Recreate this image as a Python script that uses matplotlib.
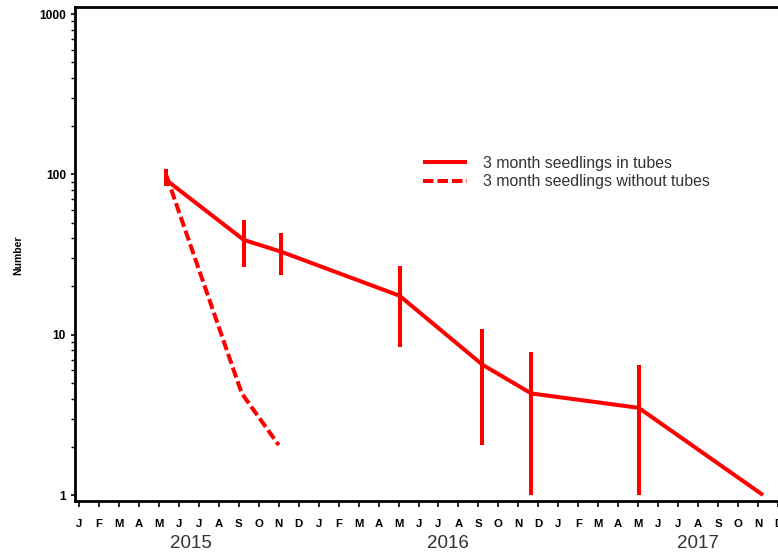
import numpy as np
import matplotlib
matplotlib.use("Agg")
import matplotlib.pyplot as plt
from matplotlib.ticker import FixedLocator, NullFormatter
import matplotlib.transforms as mtransforms

# Survey times in months since 1 January 2015
tube_months = [4.38, 8.25, 10.1, 16.05, 20.2, 22.65, 28.02, 34.25]
tube_counts = [92, 39, 33, 17.5, 6.5, 4.3, 3.5, 1.0]
tube_upper = [108, 52, 43, 26.7, 10.9, 7.8, 6.5, 1.0]
tube_lower = [85, 26.4, 23.4, 8.4, 2.05, 1.0, 1.0, 1.0]

bare_months = [4.38, 8.15, 10.0]
bare_counts = [98, 4.3, 2.05]

month_labels = ["J", "F", "M", "A", "M", "J", "J", "A", "S", "O", "N", "D"] * 3
years = ["2015", "2016", "2017"]
year_positions = [5.6, 18.45, 31.0]

W, H = 778, 554
fig = plt.figure(figsize=(W / 100, H / 100), dpi=100)
fig.patch.set_facecolor("white")

left_px, right_px, top_px, bottom_px = 75, 790, 7, 501
ax = fig.add_axes([left_px / W, (H - bottom_px) / H,
                   (right_px - left_px) / W, (bottom_px - top_px) / H])

red = "#ff0000"
lw = 2.9

tube_counts_a = np.array(tube_counts)
yerr = np.vstack([tube_counts_a - np.array(tube_lower),
                  np.array(tube_upper) - tube_counts_a])
ax.errorbar(tube_months, tube_counts, yerr=yerr, fmt="none",
            ecolor=red, elinewidth=lw, capsize=0, zorder=3)
ax.plot(tube_months, tube_counts, color=red, lw=lw,
        solid_capstyle="butt", label="3 month seedlings in tubes", zorder=3)
ax.plot(bare_months, bare_counts, color=red, lw=lw,
        linestyle=(0, (2.6, 1.0)), dash_capstyle="butt",
        label="3 month seedlings without tubes", zorder=3)

ax.set_yscale("log")
ax.set_ylim(0.918, 1106)
ax.set_xlim(-0.2, 35.6)

# y axis
ax.yaxis.set_major_locator(FixedLocator([1, 10, 100, 1000]))
ax.set_yticklabels(["1", "10", "100", "1000"])
minor = [m * 10 ** e for e in range(0, 3) for m in range(2, 10)]
ax.yaxis.set_minor_locator(FixedLocator(minor))
ax.yaxis.set_minor_formatter(NullFormatter())
ax.tick_params(axis="y", which="major", length=3.2, width=1.2, pad=3.2,
               labelsize=8.6)
ax.tick_params(axis="y", which="minor", length=2.6, width=1.0)
for t in ax.get_yticklabels():
    t.set_fontfamily("Liberation Sans")
    t.set_fontweight("bold")

# x axis: one tick per month
ax.xaxis.set_major_locator(FixedLocator(range(len(month_labels))))
ax.set_xticklabels(month_labels)
ax.xaxis.set_minor_locator(FixedLocator([]))
ax.tick_params(axis="x", which="major", length=4, width=1.2, pad=9,
               labelsize=8.2)
for t in ax.get_xticklabels():
    t.set_fontfamily("Liberation Sans")
    t.set_fontweight("bold")

trans = mtransforms.blended_transform_factory(ax.transData, fig.transFigure)
for yr, xp in zip(years, year_positions):
    ax.text(xp, (H - 544) / H, yr, transform=trans, ha="center", va="center",
            fontsize=13.5, color="#333333", family="Liberation Sans",
            clip_on=False)

for side in ["left", "bottom", "top", "right"]:
    ax.spines[side].set_linewidth(2.0)
    ax.spines[side].set_color("black")

fig.text(18 / W, (H - 255) / H, "Number", rotation=90, ha="center",
         va="center", fontsize=7.5, fontweight="bold",
         family="Liberation Sans")

leg = fig.legend(loc="center left", bbox_to_anchor=(423 / W, (H - 172.5) / H),
                 frameon=False, handlelength=2.8,
                 handletextpad=1.0, labelspacing=0.25, borderpad=0,
                 borderaxespad=0, prop={"family": "Liberation Sans", "size": 11.4})
for t in leg.get_texts():
    t.set_color("#333333")

fig.savefig("out.png", dpi=100, facecolor="white")
